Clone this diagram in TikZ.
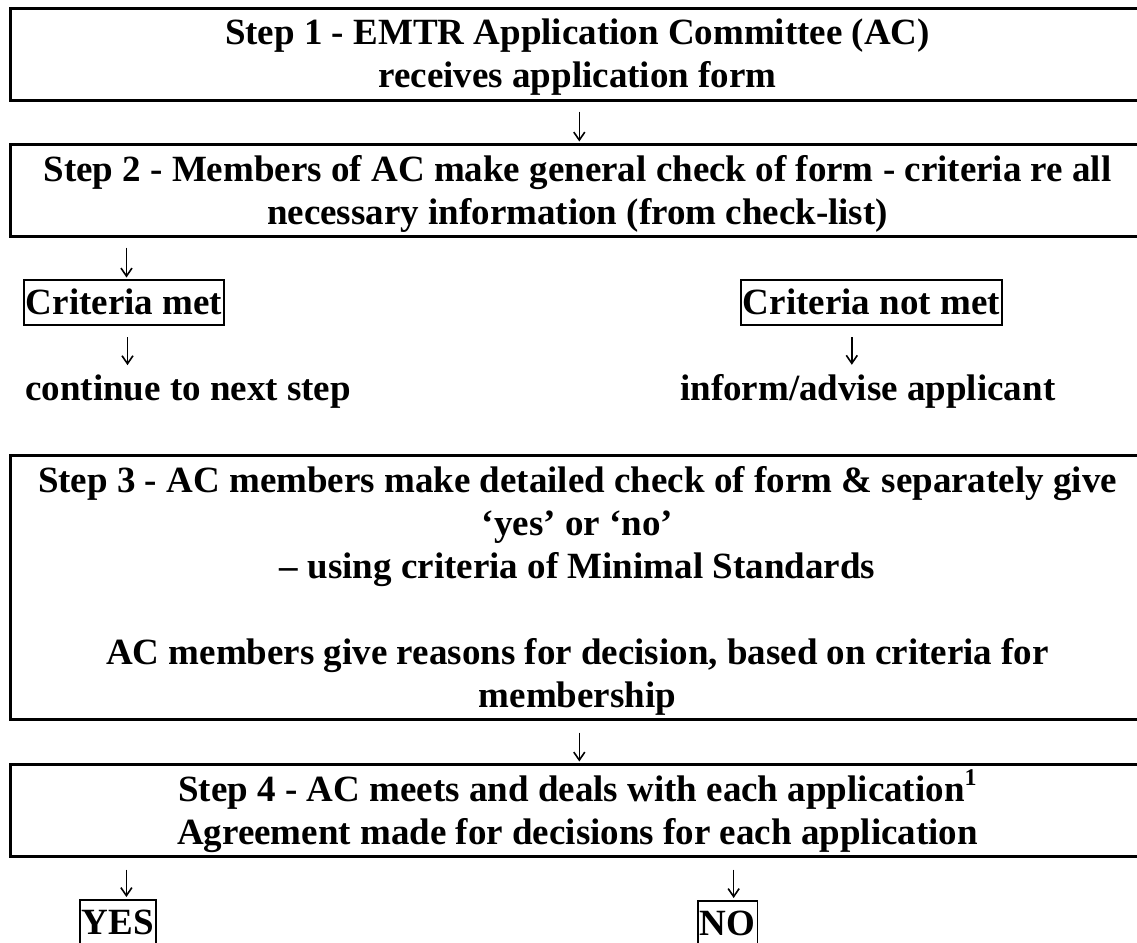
\documentclass[tikz,border=0pt]{standalone}
\usepackage{fontspec}
\setmainfont{Liberation Serif}
\usetikzlibrary{arrows.meta,calc}
\begin{document}
\begin{tikzpicture}[x=1pt,y=-1pt,
  bigfont/.style={font=\bfseries\fontsize{37}{43}\selectfont},
  bigbox/.style={draw, line width=2.6pt, minimum width=1137pt, inner sep=0pt, anchor=north west},
  txtline/.style={bigfont, inner sep=0pt, anchor=base},
  smallbox/.style={bigfont, draw, line width=1.8pt, inner xsep=2pt, inner ysep=2pt,
                   text height=33pt, text depth=8pt, anchor=north west},
  plain/.style={bigfont, inner sep=0pt, anchor=base west},
  arr/.style={line width=1.6pt, -{Straight Barb[length=8pt,width=11pt]}}
]
\useasboundingbox (0,0) rectangle (1137,942);
\fill[white] (0,0) rectangle (1137,942);

% Step boxes
\node[bigbox, minimum height=92pt] (s1) at (9,7) {};
\node[bigbox, minimum height=92pt] (s2) at (9,143) {};
\node[bigbox, minimum height=264pt] (s3) at (9,454) {};
\node[bigbox, minimum height=92pt] (s4) at (9,763) {};

% Step texts, one node per printed line
\node[txtline] (s1a) at (577.5,45) {Step 1 - EMTR Application Committee (AC)};
\node[txtline] (s1b) at (577.5,88) {receives application form};
\node[txtline] (s2a) at (577.5,181) {Step 2 - Members of AC make general check of form - criteria re all};
\node[txtline] (s2b) at (577.5,224) {necessary information (from check-list)};
\node[txtline] (s3a) at (577.5,492) {Step 3 - AC members make detailed check of form \& separately give};
\node[txtline] (s3b) at (577.5,535) {‘yes’ or ‘no’};
\node[txtline] (s3c) at (577.5,578) {– using criteria of Minimal Standards};
\node[txtline] (s3d) at (577.5,664) {AC members give reasons for decision, based on criteria for};
\node[txtline] (s3e) at (577.5,707) {membership};
\node[txtline] (s4a) at (577.5,801) {Step 4 - AC meets and deals with each application\raisebox{0.42em}{\fontsize{24}{24}\selectfont 1}};
\node[txtline] (s4b) at (577.5,844) {Agreement made for decisions for each application};

% Small boxes
\node[smallbox] (cm) at (23,279) {Criteria met};
\node[smallbox] (cn) at (740,279) {Criteria not met};
\node[smallbox] (yes) at (79,899) {YES};
\node[smallbox] (no) at (697,900) {NO};

% Plain texts
\node[plain] (cont) at (25,400) {continue to next step};
\node[plain] (inf) at (680,400) {inform/advise applicant};

% Arrows
\draw[arr] ($(s1.south)+(0.5,10)$) -- ($(s2.north)+(0.5,-1.5)$);
\draw[arr] ($(s2.south -| cm.north)+(2.5,10)$) -- ($(cm.north)+(2.5,-1.5)$);
\draw[arr] ($(cm.south)+(3.5,11.5)$) -- ($(cont.north -| cm.south)+(3.5,-9)$);
\draw[arr] ($(cn.south)+(-19.5,11.5)$) -- ($(inf.north -| cn.south)+(-19.5,-9)$);
\draw[arr] ($(s3.south)+(0.5,12)$) -- ($(s4.north)+(0.5,-1.5)$);
\draw[arr] ($(s4.south -| yes.north)+(8.5,12)$) -- ($(yes.north)+(8.5,-2)$);
\draw[arr] ($(s4.south -| no.north)+(6,12)$) -- ($(no.north)+(6,-2)$);
\end{tikzpicture}
\end{document}
